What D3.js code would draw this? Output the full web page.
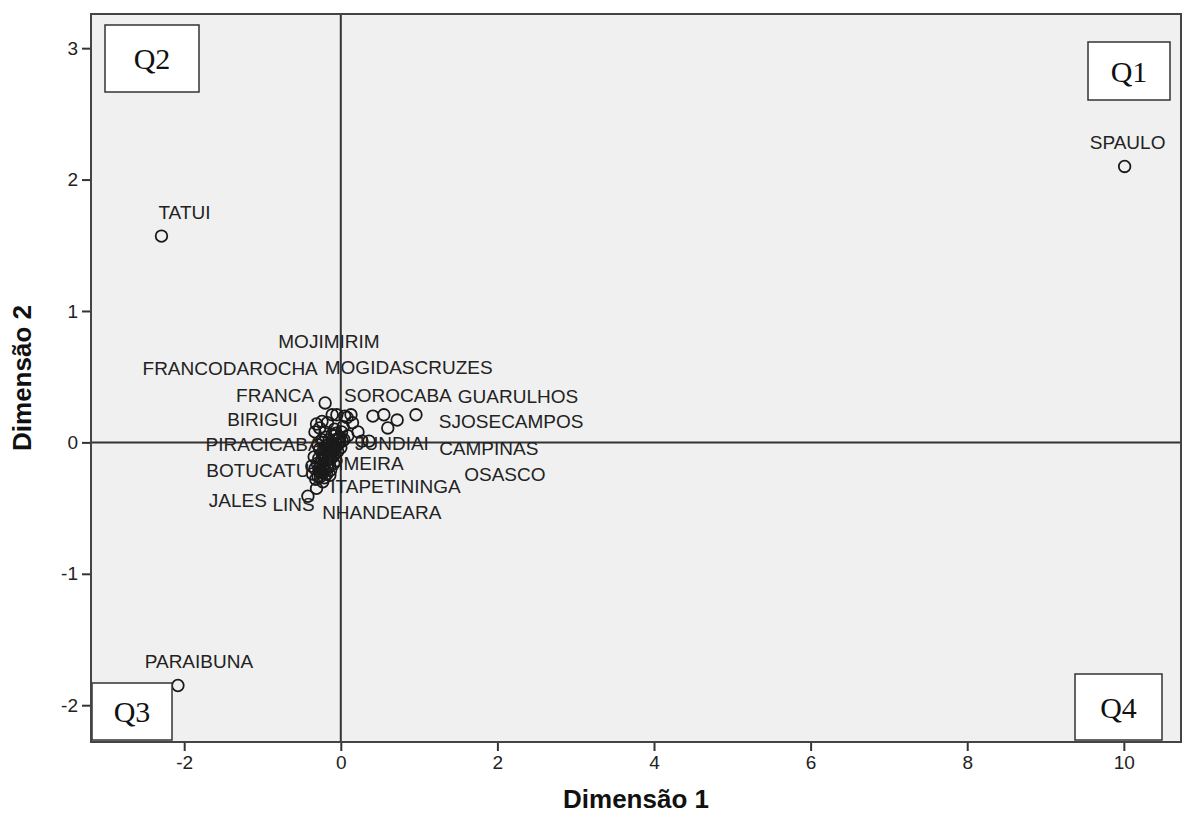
<!DOCTYPE html>
<html>
<head>
<meta charset="utf-8">
<script src="https://cdn.jsdelivr.net/npm/d3@7"></script>
<style>
  body { margin: 0; background: #fff; }
</style>
</head>
<body>
<div id="chart-area"></div>
<script>
// Data (dimension scores per city, "" = point without label)
const cities = [
    "SPAULO", "TATUI", "PARAIBUNA",
    "SOROCABA", "OSASCO", "SJOSECAMPOS", "CAMPINAS", "GUARULHOS",
    "FRANCA", "FRANCODAROCHA", "", "BIRIGUI", "", "MOGIDASCRUZES", "MOJIMIRIM", "", "", "", "",
    "", "", "JUNDIAI", "", "", "", "", "", "",
    "", "", "", "", "LIMEIRA", "", "", "", "", "", "", "", "", "", "", "", "", "", "",
    "NHANDEARA", "ITAPETININGA", "JALES", "", "PIRACICABA", "", "", "", "BOTUCATU", "", "", "", "LINS", "",
    "", "", "", "", "", "", "", "", "", "", "", "", "", "", "", "",
    "", "", "", "", "", "", "", "", "", "", "", "", "", "", "", ""
];
const dim1 = [
    10.01, -2.29, -2.08,
    0.41, 0.55, 0.72, 0.60, 0.96,
    -0.20, -0.11, -0.24, -0.31, -0.17, 0.05, 0.13, 0.15, 0.22, -0.05, 0.08,
    0.03, 0.09, 0.27, 0.36, -0.33, -0.20, -0.08, 0.01, -0.27,
    -0.01, -0.06, -0.11, -0.17, -0.04, -0.09, -0.14, -0.20, -0.15, -0.22, -0.10, -0.18, -0.26, -0.14, -0.22, -0.28, -0.18, -0.26, -0.32,
    -0.23, -0.31, -0.42, -0.34, -0.29, -0.24, 0.04, -0.04, -0.37, -0.08, -0.19, -0.13, -0.36, -0.06,
    -0.02, -0.07, -0.12, -0.16, -0.19, -0.24, -0.21, -0.27, -0.16, -0.12, -0.08, -0.03, 0.00, -0.13, -0.20, -0.25,
    -0.29, -0.21, -0.17, -0.24, -0.28, -0.30, -0.11, -0.15, -0.06, 0.02, -0.09, -0.19, -0.23, -0.14, -0.33, -0.27
];
const dim2 = [
    2.10, 1.57, -1.85,
    0.20, 0.21, 0.17, 0.11, 0.21,
    0.30, 0.21, 0.16, 0.14, 0.15, 0.20, 0.21, 0.15, 0.08, 0.21, 0.19,
    0.12, 0.05, 0.01, 0.01, 0.08, 0.08, 0.10, 0.08, 0.11,
    0.04, 0.02, -0.01, -0.02, -0.02, -0.05, -0.07, -0.06, -0.10, -0.11, -0.11, -0.14, -0.16, -0.18, -0.20, -0.22, -0.24, -0.26, -0.28,
    -0.30, -0.35, -0.41, -0.11, -0.02, 0.02, 0.02, -0.07, -0.18, 0.05, 0.04, -0.21, -0.24, -0.14,
    0.00, -0.03, -0.04, -0.08, -0.12, -0.13, -0.17, -0.19, -0.16, -0.08, -0.09, 0.03, -0.04, -0.12, -0.22, -0.23,
    -0.26, -0.27, -0.19, -0.08, -0.12, -0.16, 0.06, 0.02, 0.07, 0.01, -0.16, -0.03, 0.00, -0.25, -0.20, -0.05
];
const xTicks = [-2, 0, 2, 4, 6, 8, 10];
const yTicks = [-2, -1, 0, 1, 2, 3];
const quadrants = ["Q1", "Q2", "Q3", "Q4"];

// label placement (pixel offset of label centre from its point)
const labelOffset = {
    SPAULO: [3, -24], TATUI: [23, -24], PARAIBUNA: [21, -24],
    SOROCABA: [25, -21], GUARULHOS: [102, -19], SJOSECAMPOS: [114, 1],
    CAMPINAS: [101, 20], OSASCO: [121, 59], MOJIMIRIM: [-22, -74],
    MOGIDASCRUZES: [64, -49], FRANCA: [-50, -8], FRANCODAROCHA: [-102, -47],
    BIRIGUI: [-54, -5], PIRACICABA: [-55, -1], JUNDIAI: [30, 2],
    LIMEIRA: [28, 18], BOTUCATU: [-54, 4], ITAPETININGA: [79, -2],
    JALES: [-70, 4], LINS: [-19, 30], NHANDEARA: [59, 30]
};

const MARGIN = { LEFT: 91, RIGHT: 2, TOP: 14, BOTTOM: 85 };
const WIDTH = 1183 - MARGIN.LEFT - MARGIN.RIGHT;
const HEIGHT = 827 - MARGIN.TOP - MARGIN.BOTTOM;
const SANS = "'Liberation Sans', Arial, sans-serif";
const SERIF = "'Liberation Serif', 'Times New Roman', serif";

const data = cities.map((c, i) => ({ name: c, d1: dim1[i], d2: dim2[i] }));

const svg = d3.select("#chart-area").append("svg")
    .attr("width", 1183)
    .attr("height", 827);

const g = svg.append("g")
    .attr("transform", `translate(${MARGIN.LEFT}, ${MARGIN.TOP})`);

const x = d3.scaleLinear().domain([-3.19, 10.73]).range([0, WIDTH]);
const y = d3.scaleLinear().domain([-2.28, 3.26]).range([HEIGHT, 0]);

// plot background
g.append("rect")
    .attr("width", WIDTH)
    .attr("height", HEIGHT)
    .attr("fill", "#f0f0f0");

// reference lines
g.append("line")
    .attr("x1", x(0)).attr("x2", x(0))
    .attr("y1", 0).attr("y2", HEIGHT)
    .attr("stroke", "#333").attr("stroke-width", 2);
g.append("line")
    .attr("x1", 0).attr("x2", WIDTH)
    .attr("y1", y(0)).attr("y2", y(0))
    .attr("stroke", "#333").attr("stroke-width", 2);

// axes
const xAxisCall = d3.axisBottom(x).tickValues(xTicks).tickSize(9).tickPadding(5)
    .tickFormat(d => String(d));
const xAxis = g.append("g")
    .attr("transform", `translate(0, ${HEIGHT})`)
    .call(xAxisCall);
const yAxisCall = d3.axisLeft(y).tickValues(yTicks).tickSize(9).tickPadding(4)
    .tickFormat(d => String(d));
const yAxis = g.append("g").call(yAxisCall);

[xAxis, yAxis].forEach(a => {
    a.select(".domain").remove();
    a.selectAll(".tick line").attr("stroke", "#333").attr("stroke-width", 2);
    a.selectAll(".tick text")
        .style("font-size", "19px")
        .style("font-family", SANS)
        .attr("fill", "#222");
});

// points
g.selectAll("circle.pt").data(data)
    .enter().append("circle")
    .attr("class", "pt")
    .attr("cx", d => x(d.d1))
    .attr("cy", d => y(d.d2))
    .attr("r", 5.8)
    .attr("fill", "none")
    .attr("stroke", "#1a1a1a")
    .attr("stroke-width", 1.8);

// point labels
g.selectAll("text.lbl").data(data.filter(d => d.name !== ""))
    .enter().append("text")
    .attr("class", "lbl")
    .attr("x", d => x(d.d1) + labelOffset[d.name][0])
    .attr("y", d => y(d.d2) + labelOffset[d.name][1])
    .attr("dy", "0.36em")
    .attr("text-anchor", "middle")
    .style("font-family", SANS)
    .style("font-size", "19px")
    .attr("fill", "#222")
    .text(d => d.name);

// quadrant boxes
const qBox = {
    Q1: { x: WIDTH - 93, y: 28, w: 82, h: 58 },
    Q2: { x: 14, y: 11, w: 94, h: 67 },
    Q3: { x: 1, y: HEIGHT - 59, w: 80, h: 57 },
    Q4: { x: WIDTH - 106, y: HEIGHT - 68, w: 87, h: 66 }
};
quadrants.forEach(q => {
    const b = qBox[q];
    g.append("rect")
        .attr("x", b.x).attr("y", b.y)
        .attr("width", b.w).attr("height", b.h)
        .attr("fill", "#fff")
        .attr("stroke", "#333")
        .attr("stroke-width", 1.5);
    g.append("text")
        .attr("x", b.x + b.w / 2)
        .attr("y", b.y + b.h / 2)
        .attr("dy", "0.35em")
        .attr("text-anchor", "middle")
        .style("font-family", SERIF)
        .style("font-size", "30px")
        .attr("fill", "#111")
        .text(q);
});

// plot frame
g.append("rect")
    .attr("width", WIDTH)
    .attr("height", HEIGHT)
    .attr("fill", "none")
    .attr("stroke", "#444")
    .attr("stroke-width", 2);

// axis titles
g.append("text")
    .attr("x", WIDTH / 2)
    .attr("y", HEIGHT + 66)
    .attr("text-anchor", "middle")
    .style("font-family", SANS)
    .style("font-size", "26px")
    .style("font-weight", "bold")
    .attr("fill", "#111")
    .text("Dimensão 1");

g.append("text")
    .attr("transform", "rotate(-90)")
    .attr("x", -HEIGHT / 2)
    .attr("y", -60)
    .attr("text-anchor", "middle")
    .style("font-family", SANS)
    .style("font-size", "26px")
    .style("font-weight", "bold")
    .attr("fill", "#111")
    .text("Dimensão 2");
</script>
</body>
</html>
